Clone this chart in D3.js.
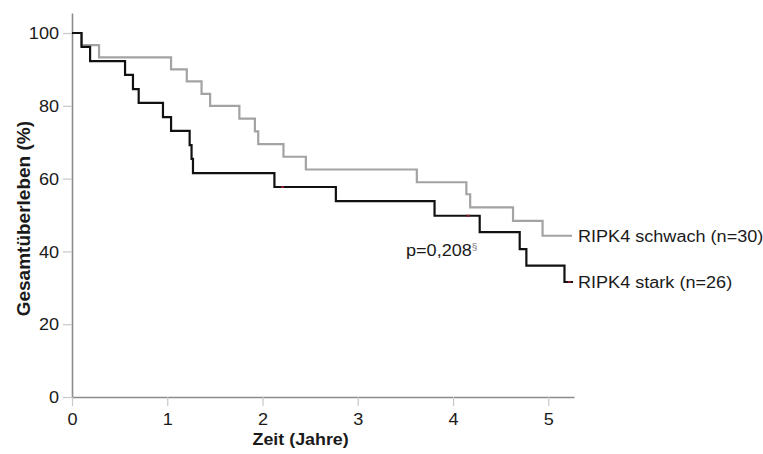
<!DOCTYPE html>
<html>
<head>
<meta charset="utf-8">
<script src="https://cdn.jsdelivr.net/npm/d3@7"></script>
<style>
  body { margin: 0; background: #fff; }
  text { font-family: "Liberation Sans", Arial, sans-serif; fill: #1a1a1a; }
</style>
</head>
<body>
<script>
const W = 763;
const H = 454;

// Kaplan-Meier steps
const starkTimes = [0, 0.1, 0.19, 0.557, 0.64, 0.70, 0.955, 1.04, 1.235, 1.255, 1.27, 2.125, 2.77, 3.806, 4.28, 4.70, 4.77, 5.17, 5.26];
const starkSurv  = [100, 96.2, 92.3, 88.5, 84.6, 80.8, 76.9, 73.1, 69.2, 65.4, 61.5, 57.7, 53.8, 49.8, 45.3, 40.6, 36.1, 31.6, 31.6];
const starkCensor = [2.21, 4.16, 5.22];

const schwachTimes = [0, 0.1, 0.284, 1.04, 1.205, 1.36, 1.45, 1.757, 1.92, 1.955, 2.22, 2.455, 3.62, 4.14, 4.18, 4.63, 4.94, 5.25];
const schwachSurv  = [100, 96.7, 93.3, 90.0, 86.7, 83.3, 80.0, 76.5, 73.0, 69.5, 66.0, 62.5, 59.0, 55.7, 52.1, 48.4, 44.3, 44.3];

const xTicks = [0, 1, 2, 3, 4, 5];
const yTicks = [0, 20, 40, 60, 80, 100];

const seriesNames = ["RIPK4 schwach (n=30)", "RIPK4 stark (n=26)"];
const pText = "p=0,208";

const x = d3.scaleLinear().domain([0, 5.27]).range([72, 574]);
const y = d3.scaleLinear().domain([0, 105.5]).range([397, 13]);

const STRETCH = 1.13;

const svg = d3.select("body")
    .append("svg")
    .attr("width", W)
    .attr("height", H);

// y axis
const yAxis = svg.append("g")
    .attr("transform", `translate(${x(0)},0)`)
    .call(d3.axisLeft(y).tickValues(yTicks).tickSize(9).tickSizeOuter(0).tickFormat(d3.format("d")));
yAxis.select(".domain").attr("stroke", "#8c8c8c").attr("stroke-width", 1.6);
yAxis.selectAll(".tick line").attr("stroke", "#c8c8c8").attr("stroke-width", 1.2);
yAxis.selectAll(".tick text")
    .attr("x", -13 / STRETCH)
    .attr("dy", "0.36em")
    .attr("transform", `scale(${STRETCH},1)`)
    .style("font-size", "16px")
    .style("font-family", "Liberation Sans, Arial, sans-serif")
    .attr("fill", "#1a1a1a");

// x axis
const xAxis = svg.append("g")
    .attr("transform", `translate(0,${y(0)})`)
    .call(d3.axisBottom(x).tickValues(xTicks).tickSize(9).tickSizeOuter(0).tickFormat(d3.format("d")));
xAxis.select(".domain").attr("stroke", "#8c8c8c").attr("stroke-width", 1.6);
xAxis.selectAll(".tick line").attr("stroke", "#c8c8c8").attr("stroke-width", 1.2);
xAxis.selectAll(".tick text")
    .attr("y", 28)
    .attr("dy", 0)
    .attr("transform", `scale(${STRETCH},1)`)
    .style("font-size", "16px")
    .style("font-family", "Liberation Sans, Arial, sans-serif")
    .attr("fill", "#1a1a1a");

// axis titles
svg.append("g")
    .attr("transform", `translate(${x(2.4)},445)`)
    .append("text")
    .attr("transform", "scale(1.05,1)")
    .attr("text-anchor", "middle")
    .style("font-size", "17px")
    .style("font-weight", "bold")
    .text("Zeit (Jahre)");

svg.append("text")
    .attr("transform", `translate(30,${y(49)}) rotate(-90)`)
    .attr("text-anchor", "middle")
    .style("font-size", "19px")
    .style("font-weight", "bold")
    .text("Gesamtüberleben (%)");

// curves
const line = d3.line()
    .x(d => x(d[0]))
    .y(d => y(d[1]))
    .curve(d3.curveStepAfter);

svg.append("path")
    .datum(d3.zip(schwachTimes, schwachSurv))
    .attr("d", line)
    .attr("fill", "none")
    .attr("stroke", "#a3a3a3")
    .attr("stroke-width", 2.2);

svg.append("path")
    .datum(d3.zip(starkTimes, starkSurv))
    .attr("d", line)
    .attr("fill", "none")
    .attr("stroke", "#111")
    .attr("stroke-width", 2.2);

// small censor marks
const survAt = t => starkSurv[d3.bisectRight(starkTimes, t) - 1];
svg.selectAll(".censor")
    .data(starkCensor)
    .enter()
    .append("rect")
    .attr("class", "censor")
    .attr("x", d => x(d) - 1.5)
    .attr("y", d => y(survAt(d)) - 1)
    .attr("width", 3)
    .attr("height", 2)
    .attr("fill", "#8b1a2a");

// labels
const label = (tx, ty, txt, size) => {
    const g = svg.append("g").attr("transform", `translate(${tx},${ty})`);
    const t = g.append("text")
        .attr("transform", `scale(${STRETCH},1)`)
        .style("font-size", size + "px")
        .text(txt);
    return t;
};

label(x(5.27) + 4, y(44.3) + 6, seriesNames[0], 16);
label(x(5.27) + 4, y(31.6) + 6, seriesNames[1], 16);

const p = label(406, 256, pText, 16);
p.append("tspan")
    .attr("dy", -6)
    .style("font-size", "9px")
    .attr("fill", "#777")
    .text("§");
</script>
</body>
</html>
